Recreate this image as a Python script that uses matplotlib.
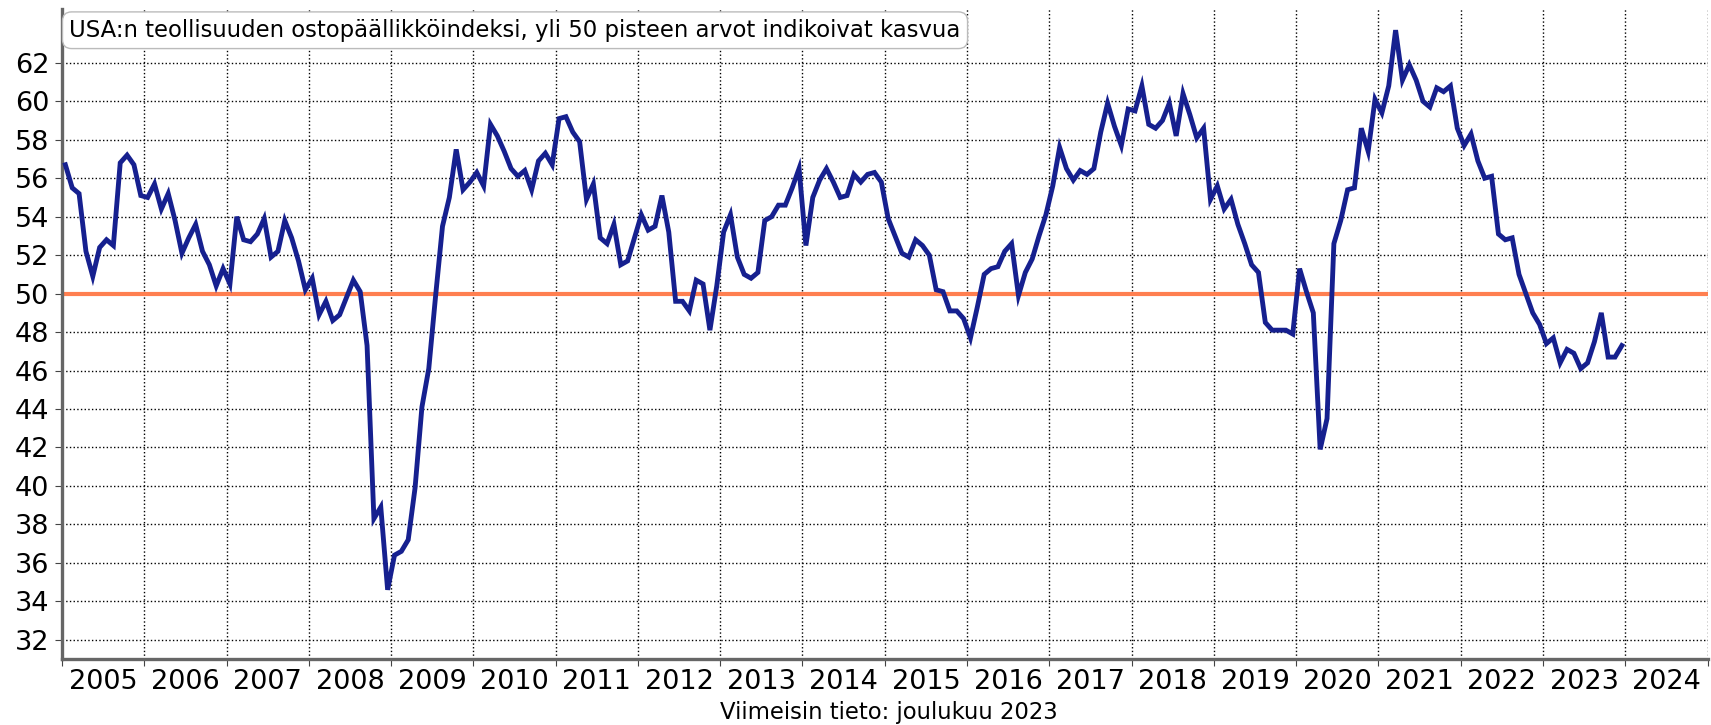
import matplotlib
matplotlib.use("Agg")
import matplotlib.pyplot as plt
import numpy as np

# monthly ISM manufacturing PMI
pmi_2005 = [56.7, 55.5, 55.2, 52.2, 50.9, 52.4, 52.8, 52.5, 56.8, 57.2, 56.7, 55.1]
pmi_2006 = [55.0, 55.7, 54.4, 55.2, 53.8, 52.1, 52.9, 53.6, 52.2, 51.5, 50.4, 51.3]
pmi_2007 = [50.5, 54.0, 52.8, 52.7, 53.1, 53.9, 51.9, 52.2, 53.8, 52.9, 51.7, 50.2]
pmi_2008 = [50.8, 48.9, 49.6, 48.6, 48.9, 49.8, 50.7, 50.1, 47.3, 38.3, 38.9, 34.6]
pmi_2009 = [36.4, 36.6, 37.2, 39.9, 44.1, 46.1, 49.9, 53.5, 55.0, 57.5, 55.4, 55.8]
pmi_2010 = [56.3, 55.6, 58.8, 58.2, 57.4, 56.5, 56.1, 56.4, 55.4, 56.9, 57.3, 56.7]
pmi_2011 = [59.1, 59.2, 58.4, 57.9, 54.9, 55.7, 52.9, 52.6, 53.6, 51.5, 51.7, 52.9]
pmi_2012 = [54.1, 53.3, 53.5, 55.1, 53.2, 49.6, 49.6, 49.1, 50.7, 50.5, 48.1, 50.4]
pmi_2013 = [53.2, 54.1, 51.9, 51.0, 50.8, 51.1, 53.8, 54.0, 54.6, 54.6, 55.5, 56.5]
pmi_2014 = [52.5, 55.0, 55.9, 56.5, 55.8, 55.0, 55.1, 56.2, 55.8, 56.2, 56.3, 55.8]
pmi_2015 = [53.9, 53.0, 52.1, 51.9, 52.8, 52.5, 52.0, 50.2, 50.1, 49.1, 49.1, 48.7]
pmi_2016 = [47.7, 49.3, 51.0, 51.3, 51.4, 52.2, 52.6, 49.9, 51.1, 51.8, 53.0, 54.1]
pmi_2017 = [55.6, 57.6, 56.5, 55.9, 56.4, 56.2, 56.5, 58.4, 59.9, 58.7, 57.7, 59.6]
pmi_2018 = [59.5, 60.8, 58.8, 58.6, 59.0, 59.9, 58.2, 60.4, 59.3, 58.1, 58.6, 54.9]
pmi_2019 = [55.6, 54.4, 54.9, 53.6, 52.6, 51.5, 51.1, 48.5, 48.1, 48.1, 48.1, 47.9]
pmi_2020 = [51.3, 50.1, 49.0, 41.9, 43.5, 52.6, 53.8, 55.4, 55.5, 58.6, 57.4, 60.1]
pmi_2021 = [59.4, 60.8, 63.7, 61.1, 61.9, 61.1, 60.0, 59.7, 60.7, 60.5, 60.8, 58.6]
pmi_2022 = [57.7, 58.3, 56.9, 56.0, 56.1, 53.1, 52.8, 52.9, 51.0, 50.0, 49.0, 48.4]
pmi_2023 = [47.4, 47.7, 46.4, 47.1, 46.9, 46.1, 46.4, 47.5, 49.0, 46.7, 46.7, 47.3]

first_year = 2005
year_labels = [str(y) for y in range(2005, 2025)]
y_ticks = list(range(32, 64, 2))
threshold = 50

title = "USA:n teollisuuden ostopäällikköindeksi, yli 50 pisteen arvot indikoivat kasvua"
footer = "Viimeisin tieto: joulukuu 2023"

values = np.array(
    pmi_2005 + pmi_2006 + pmi_2007 + pmi_2008 + pmi_2009 + pmi_2010 + pmi_2011
    + pmi_2012 + pmi_2013 + pmi_2014 + pmi_2015 + pmi_2016 + pmi_2017 + pmi_2018
    + pmi_2019 + pmi_2020 + pmi_2021 + pmi_2022 + pmi_2023
)
# mid-month positions on a decimal-year axis
x = first_year + (np.arange(len(values)) + 0.5) / 12.0

plt.rcParams["font.family"] = ["DejaVu Sans"]

fig = plt.figure(figsize=(17.11, 7.25), dpi=100)
ax = fig.add_axes([0.0362, 0.091, 0.9618, 0.8966])

ax.axhline(threshold, color="#ff7f50", lw=3.0, zorder=2)
ax.plot(x, values, color="#16208f", lw=3.5, zorder=3, solid_joinstyle="miter")

ax.set_xlim(2005, 2025)
ax.set_ylim(31.0, 64.8)

ax.set_xticks(range(2005, 2026))
ax.set_xticklabels([])
ax.set_xticks([y + 0.5 for y in range(2005, 2025)], minor=True)
ax.set_xticklabels(year_labels, minor=True)
ax.tick_params(axis="x", which="minor", length=0, labelsize=19.5, pad=7)
ax.tick_params(axis="x", which="major", length=5, color="#444444")

ax.set_yticks(y_ticks)
ax.tick_params(axis="y", labelsize=19.5, length=5, color="#444444", pad=4)

ax.grid(True, which="major", color="black", linestyle=":", lw=1.0, zorder=1)

for side in ("top", "right"):
    ax.spines[side].set_visible(False)
for side in ("left", "bottom"):
    ax.spines[side].set_color("#666666")
    ax.spines[side].set_linewidth(2.4)

ax.text(
    0.0045, 0.985, title,
    transform=ax.transAxes, ha="left", va="top", fontsize=16.4, zorder=5,
    bbox=dict(boxstyle="round,pad=0.3,rounding_size=0.4", fc="white", ec="#bbbbbb", lw=1),
)

fig.text(889 / 1711, 13 / 725, footer, ha="center", va="center", fontsize=16.4)

fig.savefig("out.png", dpi=100)
plt.close(fig)
